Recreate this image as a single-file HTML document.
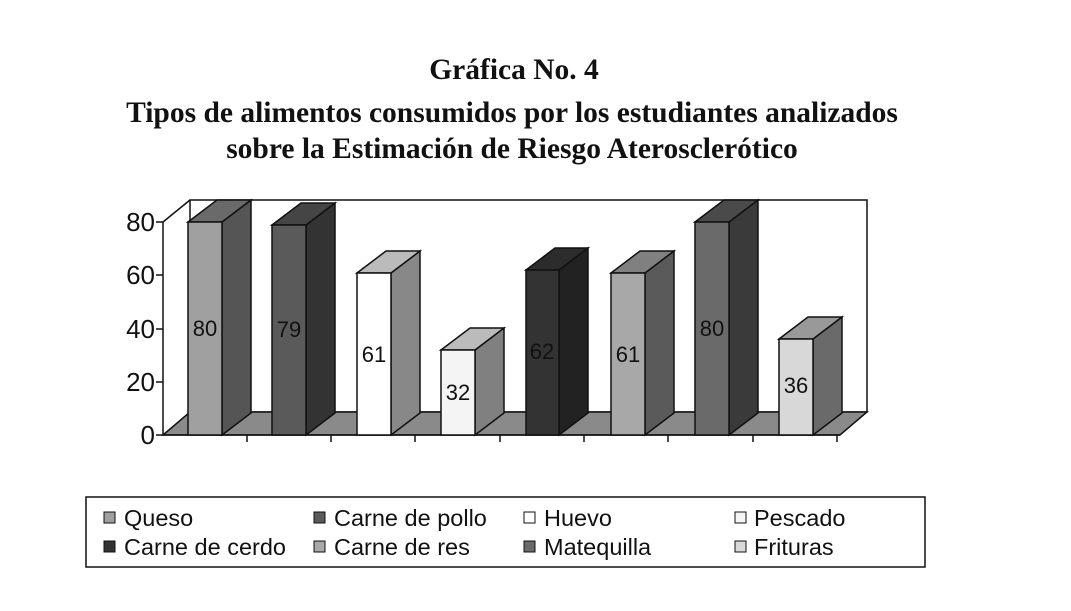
<!DOCTYPE html>
<html><head><meta charset="utf-8"><style>
html,body{margin:0;padding:0;background:#fff;width:1071px;height:611px;overflow:hidden}
</style></head><body>
<svg width="1071" height="611" xmlns="http://www.w3.org/2000/svg">
<g font-family="Liberation Serif, serif" font-weight="bold" font-size="29.5" text-anchor="middle" fill="#111">
<text x="514" y="79">Gráfica No. 4</text>
<text x="512" y="122">Tipos de alimentos consumidos por los estudiantes analizados</text>
<text x="512" y="158">sobre la Estimación de Riesgo Aterosclerótico</text>
</g>
<polygon points="190,200 867,200 867,412 190,412" fill="#fff" stroke="#111" stroke-width="1.5"/>
<line x1="163" y1="222" x2="190" y2="200" stroke="#111" stroke-width="1.5"/>
<line x1="163" y1="222" x2="163" y2="435" stroke="#111" stroke-width="1.5"/>
<polygon points="163,435 190,412 867,412 840,435" fill="#8a8a8a" stroke="#111" stroke-width="1.5"/>
<g stroke="#111" stroke-width="1.5">
<line x1="156" y1="222" x2="163" y2="222"/><line x1="156" y1="275" x2="163" y2="275"/>
<line x1="156" y1="329" x2="163" y2="329"/><line x1="156" y1="382" x2="163" y2="382"/>
<line x1="156" y1="435" x2="163" y2="435"/>
<line x1="163" y1="435" x2="840" y2="435"/>
<line x1="247" y1="435" x2="247" y2="442"/><line x1="331" y1="435" x2="331" y2="442"/>
<line x1="415" y1="435" x2="415" y2="442"/><line x1="500" y1="435" x2="500" y2="442"/>
<line x1="584" y1="435" x2="584" y2="442"/><line x1="668" y1="435" x2="668" y2="442"/>
<line x1="753" y1="435" x2="753" y2="442"/><line x1="837" y1="435" x2="837" y2="442"/>
</g>
<g font-family="Liberation Sans, sans-serif" font-size="26" text-anchor="end" fill="#111">
<text x="155" y="231">80</text><text x="155" y="284">60</text><text x="155" y="338">40</text>
<text x="155" y="391">20</text><text x="155" y="444">0</text>
</g>
<g stroke="#111" stroke-width="1.5">
<polygon points="222,435 251,413 251,200 222,222" fill="#555"/>
<polygon points="188,222 217,200 251,200 222,222" fill="#6a6a6a"/>
<rect x="188" y="222" width="34" height="213" fill="#a0a0a0"/>
<polygon points="306,435 335,413 335,203 306,225" fill="#333"/>
<polygon points="272,225 301,203 335,203 306,225" fill="#454545"/>
<rect x="272" y="225" width="34" height="210" fill="#5a5a5a"/>
<polygon points="391,435 420,413 420,251 391,273" fill="#888"/>
<polygon points="357,273 386,251 420,251 391,273" fill="#bbb"/>
<rect x="357" y="273" width="34" height="162" fill="#fff"/>
<polygon points="475,435 504,413 504,328 475,350" fill="#808080"/>
<polygon points="441,350 470,328 504,328 475,350" fill="#bbb"/>
<rect x="441" y="350" width="34" height="85" fill="#f4f4f4"/>
<polygon points="559,435 588,413 588,248 559,270" fill="#222"/>
<polygon points="526,270 555,248 588,248 559,270" fill="#2c2c2c"/>
<rect x="526" y="270" width="33" height="165" fill="#333"/>
<polygon points="645,435 674,413 674,251 645,273" fill="#5a5a5a"/>
<polygon points="611,273 640,251 674,251 645,273" fill="#808080"/>
<rect x="611" y="273" width="34" height="162" fill="#a8a8a8"/>
<polygon points="729,435 758,413 758,200 729,222" fill="#3a3a3a"/>
<polygon points="695,222 724,200 758,200 729,222" fill="#4a4a4a"/>
<rect x="695" y="222" width="34" height="213" fill="#6a6a6a"/>
<polygon points="813,435 842,413 842,317 813,339" fill="#6a6a6a"/>
<polygon points="779,339 808,317 842,317 813,339" fill="#999"/>
<rect x="779" y="339" width="34" height="96" fill="#d8d8d8"/>
</g>
<g font-family="Liberation Sans, sans-serif" font-size="22" fill="#111" text-anchor="middle">
<text x="205" y="336">80</text><text x="289" y="337">79</text><text x="374" y="362">61</text>
<text x="458" y="400">32</text><text x="542" y="359">62</text><text x="628" y="362">61</text>
<text x="712" y="336">80</text><text x="796" y="393">36</text>
</g>
<rect x="86" y="497" width="839" height="70" fill="#fff" stroke="#111" stroke-width="1.5"/>
<g stroke="#111" stroke-width="1">
<rect x="104" y="512" width="11" height="11" fill="#a0a0a0"/>
<rect x="314" y="512" width="11" height="11" fill="#5a5a5a"/>
<rect x="524" y="512" width="11" height="11" fill="#fff"/>
<rect x="735" y="512" width="11" height="11" fill="#f4f4f4"/>
<rect x="104" y="541" width="11" height="11" fill="#333"/>
<rect x="314" y="541" width="11" height="11" fill="#a8a8a8"/>
<rect x="524" y="541" width="11" height="11" fill="#6a6a6a"/>
<rect x="735" y="541" width="11" height="11" fill="#d8d8d8"/>
</g>
<g font-family="Liberation Sans, sans-serif" font-size="23.5" fill="#111">
<text x="124" y="526">Queso</text><text x="334" y="526">Carne de pollo</text>
<text x="544" y="526">Huevo</text><text x="754" y="526">Pescado</text>
<text x="124" y="555">Carne de cerdo</text><text x="334" y="555">Carne de res</text>
<text x="544" y="555">Matequilla</text><text x="754" y="555">Frituras</text>
</g>
</svg>
</body></html>
